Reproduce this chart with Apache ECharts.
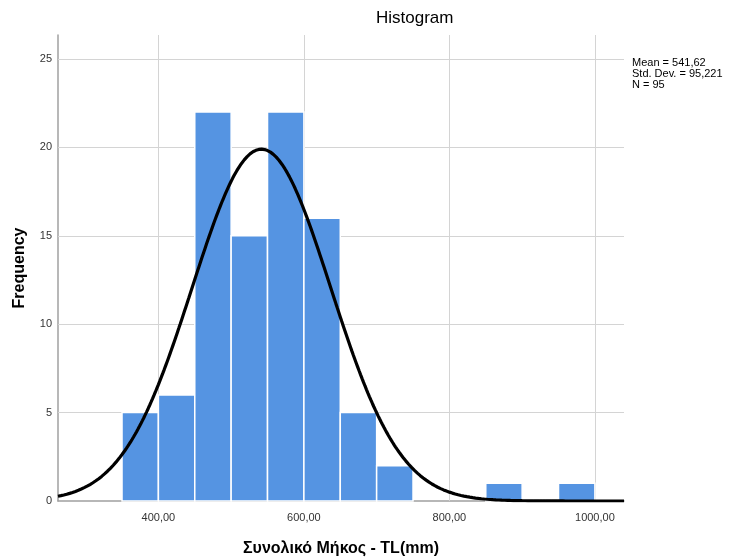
<!DOCTYPE html>
<html>
<head>
<meta charset="utf-8">
<script src="https://cdn.jsdelivr.net/npm/echarts@6/dist/echarts.min.js"></script>
<style>
  html, body { margin: 0; padding: 0; background: #fff; }
  #chart { width: 731px; height: 560px; }
</style>
</head>
<body>
<div id="chart"></div>
<script>
// Histogram of total length (mm), 50 mm bins
const binStarts = [350, 400, 450, 500, 550, 600, 650, 700, 850, 950];
const binWidth = 50;
const counts = [5, 6, 22, 15, 22, 16, 5, 2, 1, 1];

// Summary statistics shown beside the plot
const mean = 541.62;
const stdDev = 95.221;
const n = 95;

// Axis ticks
const xTicks = [400, 600, 800, 1000];
const yTicks = [0, 5, 10, 15, 20, 25];
const xRange = [262, 1040];
const yRange = [0, 26.36];

const FONT = '"Liberation Sans", Arial, sans-serif';

// Fitted normal curve scaled to frequency per bin
const curve = [];
for (let x = xRange[0]; x <= xRange[1]; x += 2) {
  const z = (x - mean) / stdDev;
  curve.push([x, n * binWidth * Math.exp(-0.5 * z * z) / (stdDev * Math.sqrt(2 * Math.PI))]);
}

const bars = binStarts.map((s, i) => [s, s + binWidth, counts[i]]);

const gridColor = '#d4d4d4';
const gridLines = [
  ...xTicks.map(v => ({ xAxis: v })),
  ...yTicks.filter(v => v > 0).map(v => ({ yAxis: v }))
];

const fmtComma = v => v.toFixed(2).replace('.', ',');

const chart = echarts.init(document.getElementById('chart'), null, { renderer: 'canvas' });
chart.setOption({
  animation: false,
  backgroundColor: '#ffffff',
  grid: { left: 58, right: 107, top: 35, bottom: 59, containLabel: false, outerBoundsMode: 'none' },
  xAxis: {
    type: 'value',
    min: xRange[0],
    max: xRange[1],
    name: 'Συνολικό Μήκος - TL(mm)',
    nameLocation: 'middle',
    nameGap: 40,
    nameTextStyle: { fontFamily: FONT, fontSize: 16, fontWeight: 'bold', color: '#000' },
    axisLine: { show: true, lineStyle: { color: '#a0a0a0', width: 1.5 } },
    axisTick: { show: false },
    splitLine: { show: false },
    axisLabel: {
      customValues: xTicks,
      formatter: v => fmtComma(v),
      fontFamily: FONT, fontSize: 11, color: '#333', margin: 11
    }
  },
  yAxis: {
    type: 'value',
    min: yRange[0],
    max: yRange[1],
    name: 'Frequency',
    nameLocation: 'middle',
    nameGap: 30,
    nameRotate: 90,
    nameTextStyle: { fontFamily: FONT, fontSize: 16, fontWeight: 'bold', color: '#000' },
    axisLine: { show: true, lineStyle: { color: '#a0a0a0', width: 1.5 } },
    axisTick: { show: false },
    splitLine: { show: false },
    axisLabel: {
      customValues: yTicks,
      fontFamily: FONT, fontSize: 11, color: '#333', margin: 6
    }
  },
  series: [
    {
      // reference grid, kept behind the bars
      type: 'line',
      data: [],
      z: 1,
      silent: true,
      markLine: {
        z: 1,
        silent: true,
        symbol: 'none',
        label: { show: false },
        lineStyle: { color: gridColor, width: 1, type: 'solid' },
        data: gridLines
      }
    },
    {
      type: 'custom',
      z: 2,
      data: bars,
      encode: { x: [0, 1], y: 2 },
      renderItem: function (params, api) {
        const p0 = api.coord([api.value(0), api.value(2)]);
        const p1 = api.coord([api.value(1), 0]);
        return {
          type: 'rect',
          shape: { x: p0[0], y: p0[1], width: p1[0] - p0[0], height: p1[1] - p0[1] },
          style: { fill: '#5594e2', stroke: '#ffffff', lineWidth: 1.5 }
        };
      }
    },
    {
      type: 'line',
      z: 3,
      data: curve,
      showSymbol: false,
      smooth: false,
      lineStyle: { color: '#000', width: 3.2 },
      clip: true
    }
  ],
  graphic: [
    {
      type: 'text',
      left: 376,
      top: 10,
      style: { text: 'Histogram', font: '17px ' + FONT, fill: '#000' }
    },
    {
      type: 'text',
      left: 632,
      top: 57,
      style: {
        text: 'Mean = ' + fmtComma(mean) + '\nStd. Dev. = ' + stdDev.toFixed(3).replace('.', ',') + '\nN = ' + n,
        font: '11px ' + FONT,
        lineHeight: 11,
        fill: '#000'
      }
    }
  ]
});
</script>
</body>
</html>
